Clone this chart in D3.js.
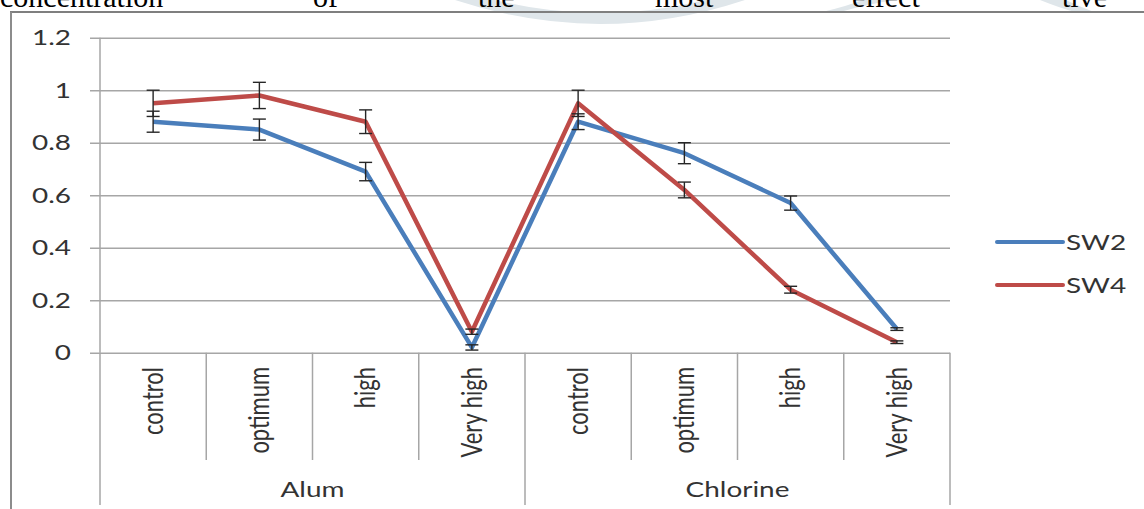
<!DOCTYPE html>
<html>
<head>
<meta charset="utf-8">
<script src="https://cdn.jsdelivr.net/npm/d3@7"></script>
<style>
  body { margin: 0; background: #fff; }
  svg { display: block; }
  .axis text { font-family: Lato, "Open Sans", sans-serif; font-size: 22px; fill: #333; }
</style>
</head>
<body>
<svg id="chart"></svg>
<script>
// data
const groups = ["Alum", "Chlorine"];
const levels = ["control", "optimum", "high", "Very high"];
const seriesNames = ["SW2", "SW4"];
const sw2 = [0.88, 0.85, 0.69, 0.02, 0.88, 0.76, 0.57, 0.09];
const sw4 = [0.95, 0.98, 0.88, 0.08, 0.95, 0.62, 0.24, 0.04];
const sw2Err = [0.04, 0.04, 0.035, 0.01, 0.03, 0.04, 0.027, 0.005];
const sw4Err = [0.05, 0.05, 0.045, 0.01, 0.05, 0.03, 0.013, 0.005];
const yTicks = [0, 0.2, 0.4, 0.6, 0.8, 1, 1.2];
const colors = ["#4a7ebb", "#be4b48"];
const headerWords = [["concentration", 0], ["of", 313], ["the", 478], ["most", 655], ["effect", 852], ["tive", 1062]];

const W = 1144, H = 509;
const margin = {left: 100, right: 194, top: 37.7, bottom: 156.3};
const stretch = 1.27; // the original picture is widened, so its text is too

const svg = d3.select("#chart").attr("width", W).attr("height", H);

// cut-off page text above the chart (faint watermark behind it)
const wm = svg.append("g").attr("fill", "#dfe6ea");
wm.append("path").attr("d", "M455,0 Q600,48 745,0 L705,0 Q600,26 495,0 Z");
wm.append("path").attr("d", "M840,12 Q868,4 895,0 L862,0 Q848,6 822,12 Z");
wm.append("path").attr("d", "M1040,0 Q1060,8 1075,12 L1094,12 Q1076,5 1066,0 Z");
svg.append("g").selectAll("text").data(headerWords).join("text")
    .attr("x", d => d[1])
    .attr("y", 7)
    .style("font-family", "'Liberation Serif', 'Times New Roman', serif")
    .style("font-size", "30px")
    .attr("fill", "#000")
    .text(d => d[0]);

// chart frame
svg.append("line").attr("x1", 10).attr("x2", W).attr("y1", 12).attr("y2", 12)
    .attr("stroke", "#7f7f7f").attr("stroke-width", 2);
svg.append("line").attr("x1", 11).attr("x2", 11).attr("y1", 12).attr("y2", H)
    .attr("stroke", "#8c8c8c").attr("stroke-width", 2);

const x0 = margin.left, x1 = W - margin.right;
const y0 = H - margin.bottom;

const cats = d3.range(groups.length * levels.length);
const xScale = d3.scaleBand().domain(cats).range([x0, x1]);
const yScale = d3.scaleLinear().domain([0, 1.2]).range([y0, margin.top]);
const cx = i => xScale(i) + xScale.bandwidth() / 2;

// y axis with gridlines running across the plot
const yAxis = d3.axisLeft(yScale)
    .tickValues(yTicks)
    .tickSize(x1 - x0 + 10)
    .tickPadding(19)
    .tickFormat(d3.format("~g"));
const yAxisG = svg.append("g").attr("class", "axis y-axis")
    .attr("transform", `translate(${x1},0)`)
    .call(yAxis);
yAxisG.select(".domain").remove();
yAxisG.selectAll("line").attr("stroke", "#a6a6a6").attr("stroke-width", 1.5);
yAxisG.selectAll("text").each(function() {
  const t = d3.select(this);
  const tx = +t.attr("x");
  t.attr("x", null).attr("transform", `translate(${tx},0) scale(${stretch},1)`);
});

// vertical axis line
svg.append("line").attr("x1", x0).attr("x2", x0)
    .attr("y1", yScale(1.2)).attr("y2", y0)
    .attr("stroke", "#a6a6a6").attr("stroke-width", 1.5);

// category dividers below the plot
const xAxisG = svg.append("g").attr("class", "axis x-axis");
const bounds = d3.range(cats.length + 1);
xAxisG.selectAll("line.div").data(bounds).join("line")
    .attr("class", "div")
    .attr("x1", i => i < cats.length ? xScale(i) : x1)
    .attr("x2", i => i < cats.length ? xScale(i) : x1)
    .attr("y1", y0)
    .attr("y2", i => i % levels.length === 0 ? 505 : 460)
    .attr("stroke", "#a6a6a6").attr("stroke-width", 1.5);

xAxisG.selectAll("text.cat").data(cats).join("text")
    .attr("class", "cat")
    .attr("transform", i => `translate(${cx(i)},367) scale(${stretch},1) rotate(-90)`)
    .attr("text-anchor", "end")
    .attr("dy", "0.35em")
    .text(i => levels[i % levels.length]);

const groupX = g => (xScale(g * levels.length) + (g === groups.length - 1 ? x1 : xScale((g + 1) * levels.length))) / 2;
xAxisG.selectAll("text.grp").data(groups).join("text")
    .attr("class", "grp")
    .attr("transform", (d, g) => `translate(${groupX(g)},489) scale(${stretch},1)`)
    .attr("dy", "0.35em")
    .attr("text-anchor", "middle")
    .text(d => d);

// series
const series = [
  {name: seriesNames[0], values: sw2, err: sw2Err, color: colors[0]},
  {name: seriesNames[1], values: sw4, err: sw4Err, color: colors[1]}
];

const line = d3.line().x((d, i) => cx(i)).y(d => yScale(d));

series.forEach(s => {
  svg.append("path")
      .datum(s.values)
      .attr("fill", "none")
      .attr("stroke", s.color)
      .attr("stroke-width", 4.5)
      .attr("stroke-linejoin", "round")
      .attr("d", line);
});

// error bars on top
const capW = 6.5;
series.forEach(s => {
  const g = svg.append("g").attr("stroke", "#262626").attr("stroke-width", 1.4);
  s.values.forEach((v, i) => {
    const top = yScale(v + s.err[i]), bot = yScale(v - s.err[i]);
    g.append("line").attr("x1", cx(i)).attr("x2", cx(i)).attr("y1", top).attr("y2", bot);
    g.append("line").attr("x1", cx(i) - capW).attr("x2", cx(i) + capW).attr("y1", top).attr("y2", top);
    g.append("line").attr("x1", cx(i) - capW).attr("x2", cx(i) + capW).attr("y1", bot).attr("y2", bot);
  });
});

// legend
const legend = svg.append("g").attr("class", "axis legend");
legend.selectAll("line").data(series).join("line")
    .attr("x1", 997).attr("x2", 1063)
    .attr("y1", (d, i) => 242 + i * 43)
    .attr("y2", (d, i) => 242 + i * 43)
    .attr("stroke", d => d.color)
    .attr("stroke-width", 4)
    .attr("stroke-linecap", "round");
legend.selectAll("text").data(series).join("text")
    .attr("transform", (d, i) => `translate(1066,${242 + i * 43}) scale(${stretch},1)`)
    .attr("dy", "0.35em")
    .text(d => d.name);
</script>
</body>
</html>
